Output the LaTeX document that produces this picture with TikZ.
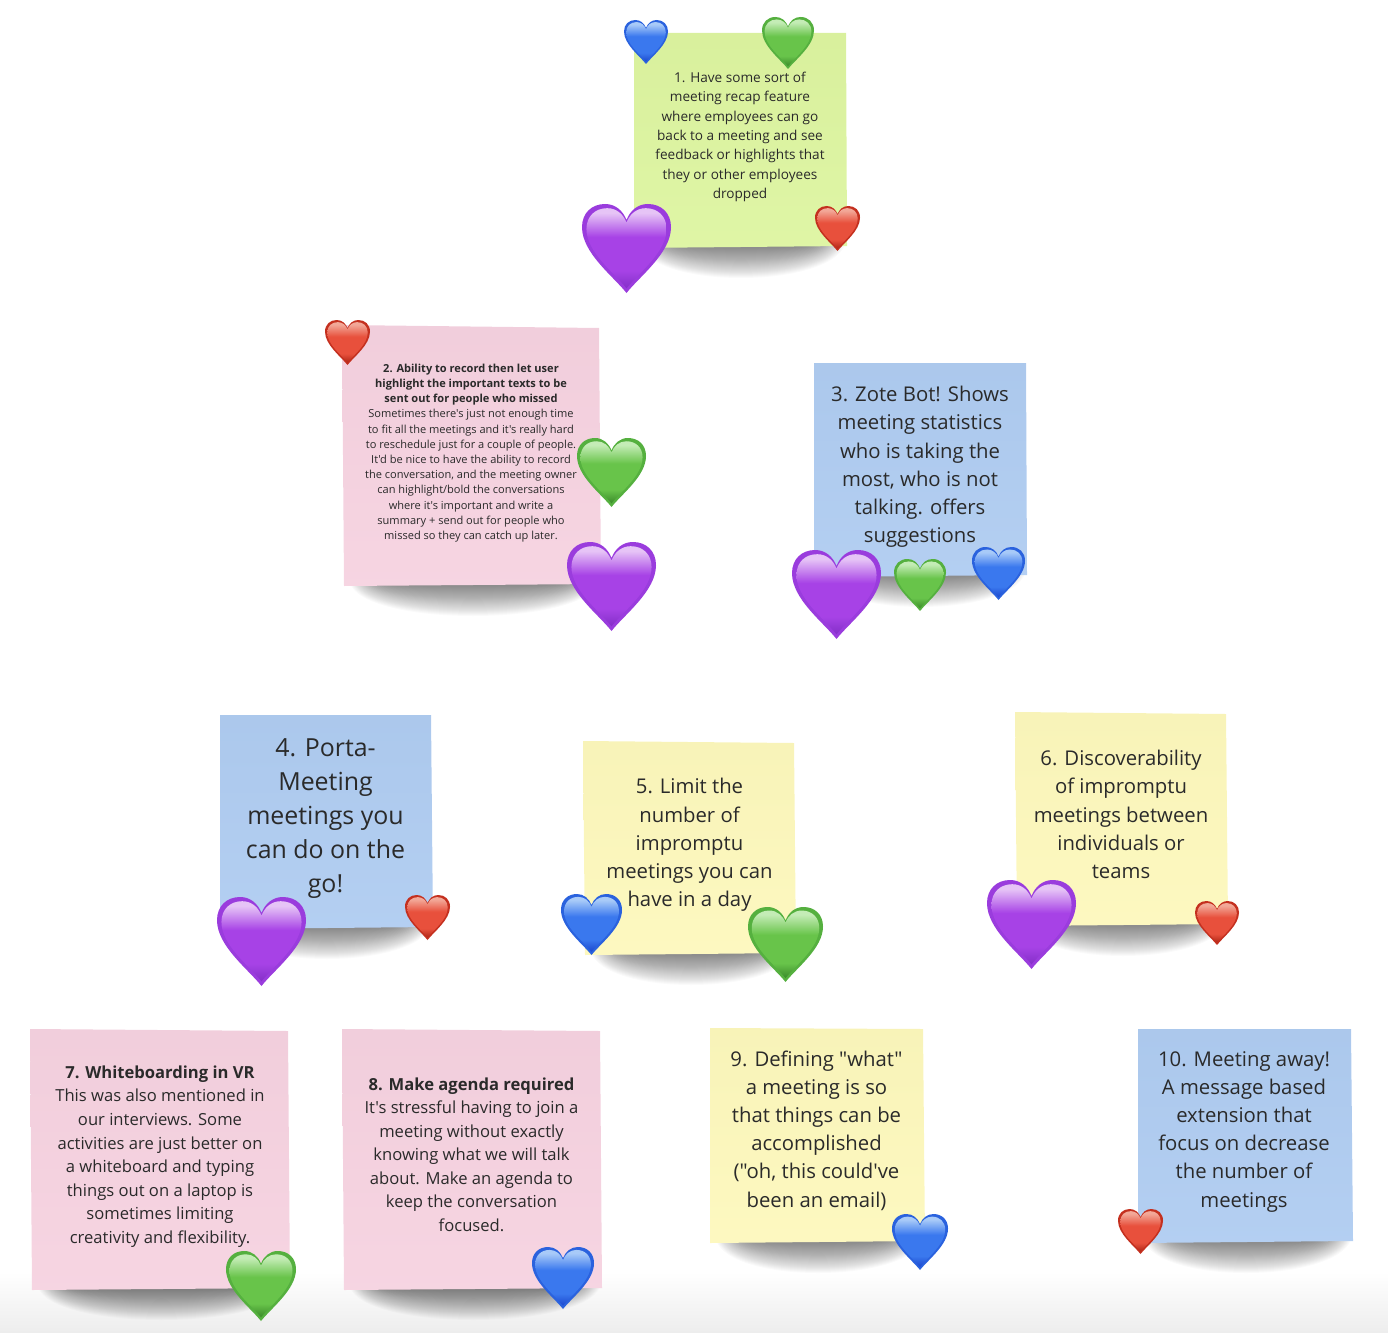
\documentclass[tikz,border=0pt]{standalone}
\usepackage{fontspec}
\setmainfont{Open Sans}[Ligatures=TeXOff]
\usetikzlibrary{shadings}

% note papers
\definecolor{limepaper}{HTML}{DDF5A0}
\definecolor{pinkpaper}{HTML}{F6D2E0}
\definecolor{bluepaper}{HTML}{AFCCF1}
\definecolor{yellowpaper}{HTML}{FDF8BC}
\definecolor{inktext}{HTML}{2A2A2A}

% heart colours: rim, bottom, body, gloss
\definecolor{purplerim}{HTML}{9A3CDD}
\definecolor{purplelow}{HTML}{8430C8}
\definecolor{purplemid}{HTML}{A742E6}
\definecolor{purpletop}{HTML}{E6C4F6}
\definecolor{greenrim}{HTML}{55B03F}
\definecolor{greenlow}{HTML}{3A8A2A}
\definecolor{greenmid}{HTML}{68C44A}
\definecolor{greentop}{HTML}{C4ECB6}
\definecolor{bluerim}{HTML}{2A62DE}
\definecolor{bluelow}{HTML}{1C48CE}
\definecolor{bluemid}{HTML}{3A78EE}
\definecolor{bluetop}{HTML}{A8CAF8}
\definecolor{redrim}{HTML}{C4301F}
\definecolor{redlow}{HTML}{AE2616}
\definecolor{redmid}{HTML}{E8503C}
\definecolor{redtop}{HTML}{F2A898}

\newcommand\makeheart[1]{%
  \pgfdeclareverticalshading{heart#1}{100bp}{color(0bp)=(#1low); color(25bp)=(#1low);
    color(36bp)=(#1mid); color(57bp)=(#1mid); color(72bp)=(#1top); color(100bp)=(#1top)}}
\makeheart{purple}
\makeheart{green}
\makeheart{blue}
\makeheart{red}

\newcommand\heartpath{(0,2) .. controls (-.3,1.62) and (-1,1.1) .. (-1,.52)
  .. controls (-1,.2) and (-.78,0) .. (-.48,0) .. controls (-.25,0) and (-.08,.15) .. (0,.36)
  .. controls (.08,.15) and (.25,0) .. (.48,0) .. controls (.78,0) and (1,.2) .. (1,.52)
  .. controls (1,1.1) and (.3,1.62) .. (0,2) -- cycle}

% #1 = colour name, #2 = half of the width
\tikzset{
  pics/heart/.style 2 args={code={
    \begin{scope}[x=#2,y=-#2]
      \fill[#1rim] \heartpath;
      \shade[shading=heart#1,shift={(0,.94)},scale=.9,shift={(0,-.94)}] \heartpath;
    \end{scope}
  }},
  notetext/.style={align=center,text=inktext,inner sep=0pt},
  tiny/.style={notetext,font=\fontsize{11.05}{15.2}\selectfont},
  small/.style={notetext,font=\fontsize{13.6}{19.3}\selectfont},
  medium/.style={notetext,font=\fontsize{16.6}{23.55}\selectfont},
  large/.style={notetext,font=\fontsize{20.3}{28.2}\selectfont},
  huge/.style={notetext,font=\fontsize{24.9}{34}\selectfont}
}

% soft shadow under a note: left, right, bottom
\newcommand\noteshadow[3]{%
  \foreach \i in {0,...,29}
    \fill[black,opacity=.021] (#1+6+\i*1.1,#3-2) .. controls (#1+20+\i*1.1,#3+42-\i*1.35)
      and (#2-20-\i*1.1,#3+42-\i*1.35) .. (#2-2-\i*1.1,#3-2) -- cycle;}

% paper of a note: colour, then the four corners
\newcommand\notepaper[5]{%
  \shade[top color=#1!98!black,bottom color=#1!94!white] (#2) -- (#3) -- (#4) -- (#5) -- cycle;}

\begin{document}
\begin{tikzpicture}[x=1pt,y=-1pt]
    \useasboundingbox (0,0) rectangle (1388,1332);
    \shade[top color=white,bottom color=black!7] (0,1272) rectangle (1388,1332);

    % top row
    \noteshadow{634}{847}{247}
    \notepaper{limepaper}{634,33}{846,33}{847,246}{634,248}
    \node[small] (n1) at (740,137) {1. Have some sort of\\meeting recap feature\\where employees can go\\back to a meeting and see\\feedback or highlights that\\they or other employees\\dropped};
    \pic (n1blue) at (646,20) {heart={blue}{22pt}};
    \pic (n1green) at (788,17) {heart={green}{26pt}};
    \pic (n1purple) at (626.5,204) {heart={purple}{44.5pt}};
    \pic (n1red) at (837.5,206) {heart={red}{22.5pt}};

    % second row
    \noteshadow{344}{601}{585}
    \notepaper{pinkpaper}{342,325}{599,328}{601,584}{344,586}
    \node[tiny] (n2) at (471,453) {\textbf{2. Ability to record then let user}\\\textbf{highlight the important texts to be}\\\textbf{sent out for people who missed}\\Sometimes there's just not enough time\\to fit all the meetings and it's really hard\\to reschedule just for a couple of people.\\It'd be nice to have the ability to record\\the conversation, and the meeting owner\\can highlight/bold the conversations\\where it's important and write a\\summary + send out for people who\\missed so they can catch up later.};
    \pic (n2red) at (347.5,320) {heart={red}{22.5pt}};
    \pic (n2green) at (611.5,438) {heart={green}{34.5pt}};
    \pic (n2purple) at (611.5,542) {heart={purple}{44.5pt}};

    \noteshadow{814}{1027}{576}
    \notepaper{bluepaper}{814,363}{1026,363}{1027,575}{814,577}
    \node[large] (n3) at (920,467) {3. Zote Bot! Shows\\meeting statistics\\who is taking the\\most, who is not\\talking. offers\\suggestions};
    \pic (n3purple) at (836.5,550) {heart={purple}{44.5pt}};
    \pic (n3green) at (920,559) {heart={green}{26pt}};
    \pic (n3blue) at (998.5,547) {heart={blue}{26.5pt}};

    % third row
    \noteshadow{220}{433}{928}
    \notepaper{bluepaper}{220,715}{431,715}{433,927}{220,929}
    \node[huge] (n4) at (325.5,818.5) {4. Porta-\\Meeting\\meetings you\\can do on the\\go!};
    \pic (n4purple) at (261.5,897) {heart={purple}{44.5pt}};
    \pic (n4red) at (427.5,895) {heart={red}{22.5pt}};

    \noteshadow{585}{796}{954}
    \notepaper{yellowpaper}{583,741}{794,743}{796,953}{585,955}
    \node[large] (n5) at (689.5,845) {5. Limit the\\number of\\impromptu\\meetings you can\\have in a day};
    \pic (n5blue) at (591.5,894) {heart={blue}{30.5pt}};
    \pic (n5green) at (785.5,907) {heart={green}{37.5pt}};

    \noteshadow{1017}{1228}{925}
    \notepaper{yellowpaper}{1015,712}{1226,714}{1228,924}{1017,926}
    \node[large] (n6) at (1121,814.5) {6. Discoverability\\of impromptu\\meetings between\\individuals or\\teams};
    \pic (n6purple) at (1031.5,880) {heart={purple}{44.5pt}};
    \pic (n6red) at (1217,901) {heart={red}{22pt}};

    % bottom row
    \noteshadow{32}{290}{1289}
    \notepaper{pinkpaper}{30,1029}{288,1031}{290,1288}{32,1290}
    \node[medium] (n7) at (160,1156.5) {\textbf{7. Whiteboarding in VR}\\This was also mentioned in\\our interviews. Some\\activities are just better on\\a whiteboard and typing\\things out on a laptop is\\sometimes limiting\\creativity and flexibility.};
    \pic (n7green) at (261,1251) {heart={green}{35pt}};

    \noteshadow{344}{602}{1289}
    \notepaper{pinkpaper}{342,1029}{600,1031}{602,1288}{344,1290}
    \node[medium] (n8) at (471.5,1154.5) {\textbf{8. Make agenda required}\\It's stressful having to join a\\meeting without exactly\\knowing what we will talk\\about. Make an agenda to\\keep the conversation\\focused.};
    \pic (n8blue) at (563,1247) {heart={blue}{31pt}};

    \noteshadow{710}{925}{1242}
    \notepaper{yellowpaper}{710,1028}{923,1029}{925,1241}{710,1243}
    \node[large] (n9) at (816.5,1130.5) {9. Defining "what"\\a meeting is so\\that things can be\\accomplished\\("oh, this could've\\been an email)};
    \pic (n9blue) at (920,1214) {heart={blue}{28pt}};

    \noteshadow{1138}{1353}{1242}
    \notepaper{bluepaper}{1138,1029}{1351,1029}{1353,1241}{1138,1243}
    \node[large] (n10) at (1244,1131.5) {10. Meeting away!\\A message based\\extension that\\focus on decrease\\the number of\\meetings};
    \pic (n10red) at (1140.5,1209) {heart={red}{22.5pt}};
\end{tikzpicture}
\end{document}
